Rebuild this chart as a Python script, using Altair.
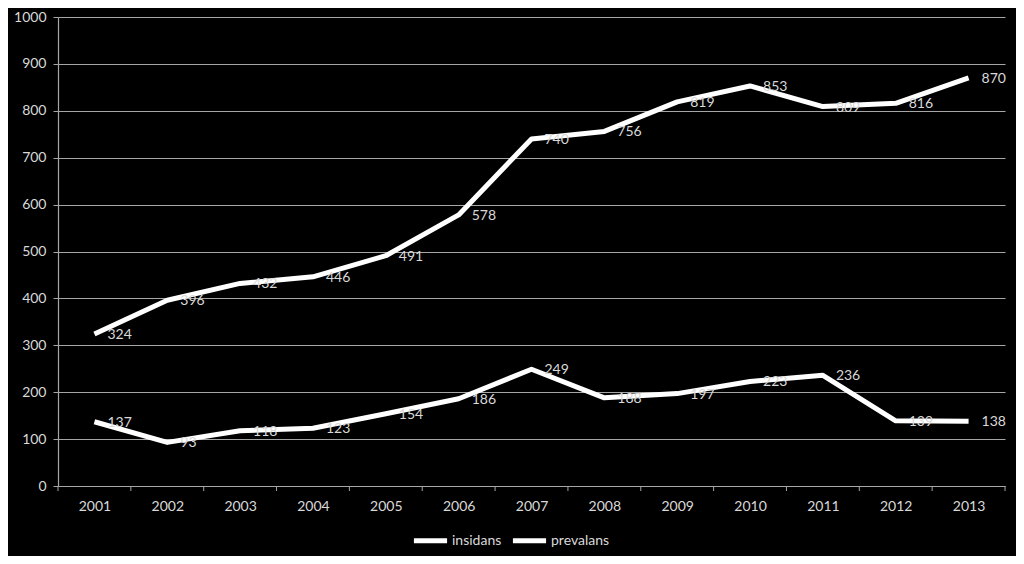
import altair as alt
import pandas as pd

years = [2001, 2002, 2003, 2004, 2005, 2006, 2007, 2008, 2009, 2010, 2011, 2012, 2013]
insidans = [324, 396, 432, 446, 491, 578, 740, 756, 819, 853, 809, 816, 870]
prevalans = [137, 93, 118, 123, 154, 186, 249, 188, 197, 223, 236, 139, 138]
series_names = ["insidans", "prevalans"]
y_ticks = [0, 100, 200, 300, 400, 500, 600, 700, 800, 900, 1000]
x_tick_edges = [y - 0.5 for y in years] + [years[-1] + 0.5]

rows = []
for i, yr in enumerate(years):
    rows.append({"year": yr, "value": insidans[i], "series": series_names[0]})
    rows.append({"year": yr, "value": prevalans[i], "series": series_names[1]})
df = pd.DataFrame(rows)
ticks_df = pd.DataFrame({"edge": x_tick_edges})

W, H = 947, 469
FONT = "Lato"
TXT = "#d9d9d9"
GRID = "#a6a6a6"

xscale = alt.Scale(domain=[years[0] - 0.5, years[-1] + 0.5], nice=False, zero=False)
yscale = alt.Scale(domain=[0, 1000], nice=False)

lines = alt.Chart(df).mark_line(strokeWidth=5, strokeCap="butt", strokeJoin="round").encode(
    x=alt.X("year:Q", scale=xscale,
            axis=alt.Axis(values=years, format="d", ticks=False, grid=False, title=None,
                          labelColor=TXT, labelFontSize=14, labelFont=FONT, labelPadding=13,
                          domainColor=GRID, domainWidth=1.2)),
    y=alt.Y("value:Q", scale=yscale,
            axis=alt.Axis(values=y_ticks, format="d", title=None, grid=True, gridColor=GRID,
                          gridWidth=1, tickColor=GRID, tickSize=5, domainColor=GRID,
                          domainWidth=1.2, labelColor=TXT, labelFontSize=14, labelFont=FONT,
                          labelPadding=7)),
    color=alt.Color("series:N", scale=alt.Scale(domain=series_names, range=["white", "white"]),
                    legend=alt.Legend(title=None, orient="none", legendX=353, legendY=504,
                                      direction="horizontal", symbolType="stroke",
                                      symbolStrokeWidth=5, symbolSize=1100,
                                      labelColor=TXT, labelFontSize=14, labelFont=FONT,
                                      labelOffset=2, columnPadding=0)),
    detail="series:N",
)

labels = alt.Chart(df).mark_text(align="left", baseline="middle", dx=13, dy=1,
                                 fontSize=14, font=FONT, color=TXT).encode(
    x=alt.X("year:Q", scale=xscale),
    y=alt.Y("value:Q", scale=yscale),
    text=alt.Text("value:Q"),
)

xticks = alt.Chart(ticks_df).mark_rule(color=GRID, strokeWidth=1).encode(
    x=alt.X("edge:Q", scale=xscale),
    y=alt.value(H),
    y2=alt.value(H + 5),
)

chart = alt.layer(lines, xticks, labels).properties(
    width=W, height=H,
    padding={"left": 50, "top": 9, "right": 11, "bottom": 70},
    autosize=alt.AutoSizeParams(type="none"),
    background="black",
).configure_view(stroke=None)

chart.save("out.html", embed_options={"renderer": "svg", "actions": False})
